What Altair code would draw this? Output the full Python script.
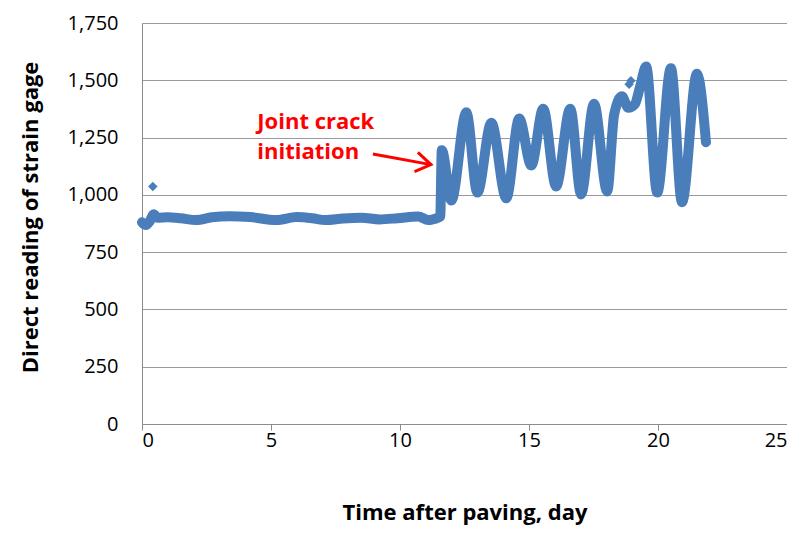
import altair as alt
import pandas as pd

# ---- data ----
# steady period before the joint crack
base_day = [0.0, 0.15, 0.3, 0.45, 0.6, 1.0, 1.5, 2.1, 2.7, 3.4, 4.2, 5.2, 6.0, 6.6,
            7.1, 7.8, 8.5, 9.2, 9.9, 10.7, 11.1, 11.5]
base_val = [880, 868, 885, 915, 900, 902, 898, 890, 902, 907, 903, 890, 903, 898,
            890, 897, 900, 893, 898, 906, 890, 902]

# after joint crack initiation (daily cycles)
crack_day = [11.56, 11.62, 11.99, 12.57, 13.0, 13.54, 14.12, 14.62, 15.09, 15.55,
             16.05, 16.6, 17.02, 17.52, 18.03, 18.3, 18.6, 18.85, 19.1, 19.3, 19.54,
             19.97, 20.5, 20.93, 21.51, 21.86]
crack_val = [905, 1195, 975, 1360, 1010, 1315, 985, 1333, 1128, 1376,
             1037, 1376, 1002, 1398, 1015, 1350, 1430, 1380, 1395, 1470, 1560,
             1010, 1553, 968, 1528, 1230]

# isolated readings
odd_day = [0.42, 18.88, 18.95]
odd_val = [1036, 1483, 1498]

x_ticks = [0, 5, 10, 15, 20, 25]
y_ticks = [0, 250, 500, 750, 1000, 1250, 1500, 1750]

BLUE = "#4A7EBB"
RED = "#FF0000"
FONT = "Open Sans"

series = pd.DataFrame({"day": base_day + crack_day, "val": base_val + crack_val})
odd = pd.DataFrame({"day": odd_day, "val": odd_val})

x_scale = alt.Scale(domain=[0, 25], nice=False, zero=False)
y_scale = alt.Scale(domain=[0, 1750], nice=False)

x_axis = alt.Axis(values=x_ticks, title="Time after paving, day", grid=False,
                  domainColor="#8c8c8c", tickColor="#8c8c8c", tickSize=6,
                  labelFontSize=20, labelFont=FONT, labelColor="#000000",
                  labelPadding=0, titleFontSize=22, titleFont=FONT,
                  titleFontWeight="bold", titleColor="#000000",
                  titleY=88, titleBaseline="middle")
y_axis = alt.Axis(values=y_ticks, format=",d", title="Direct reading of strain gage",
                  grid=True, gridColor="#9a9a9a", gridWidth=1,
                  domainColor="#8c8c8c", ticks=False, labelPadding=24,
                  labelFontSize=20, labelFont=FONT, labelColor="#000000",
                  titleFontSize=22, titleFont=FONT, titleFontWeight="bold",
                  titleColor="#000000", titleX=-112, titleY=194,
                  titleAlign="center", titleBaseline="middle", titleAngle=-90)

line = alt.Chart(series).mark_line(color=BLUE, strokeWidth=10, interpolate="monotone",
                                   strokeCap="round", strokeJoin="round").encode(
    x=alt.X("day:Q", scale=x_scale, axis=x_axis),
    y=alt.Y("val:Q", scale=y_scale, axis=y_axis),
)

dots = alt.Chart(odd).mark_point(shape="diamond", filled=True, color=BLUE,
                                 size=90, opacity=1).encode(
    x=alt.X("day:Q", scale=x_scale),
    y=alt.Y("val:Q", scale=y_scale),
)

# annotation
note = pd.DataFrame({"day": [4.47, 4.47], "val": [1317, 1187],
                     "txt": ["Joint crack", "initiation"]})
arrow = pd.DataFrame({"day": [8.95], "val": [1178], "day2": [11.2], "val2": [1132]})

note_text = alt.Chart(note).mark_text(align="left", baseline="middle", color=RED,
                                      font=FONT, fontSize=22, fontWeight="bold").encode(
    x=alt.X("day:Q", scale=x_scale),
    y=alt.Y("val:Q", scale=y_scale),
    text="txt:N",
)
arrow_line = alt.Chart(arrow).mark_rule(color=RED, strokeWidth=3).encode(
    x=alt.X("day:Q", scale=x_scale),
    y=alt.Y("val:Q", scale=y_scale),
    x2="day2:Q",
    y2="val2:Q",
)
arrow_head = alt.Chart(arrow).mark_point(
    shape="M -1 -0.65 L 0 0 L -1 0.65", filled=False, color=RED,
    strokeWidth=3, size=900, angle=10, opacity=1).encode(
    x=alt.X("day2:Q", scale=x_scale),
    y=alt.Y("val2:Q", scale=y_scale),
)

chart = alt.layer(line, dots, arrow_line, arrow_head, note_text).properties(
    width=645, height=401,
    autosize=alt.AutoSizeParams(type="none"),
    padding={"left": 134, "top": 15, "right": 0, "bottom": 103},
    background="white",
).configure_view(stroke=None)

chart.save("out.html", embed_options={"renderer": "svg", "actions": False})
